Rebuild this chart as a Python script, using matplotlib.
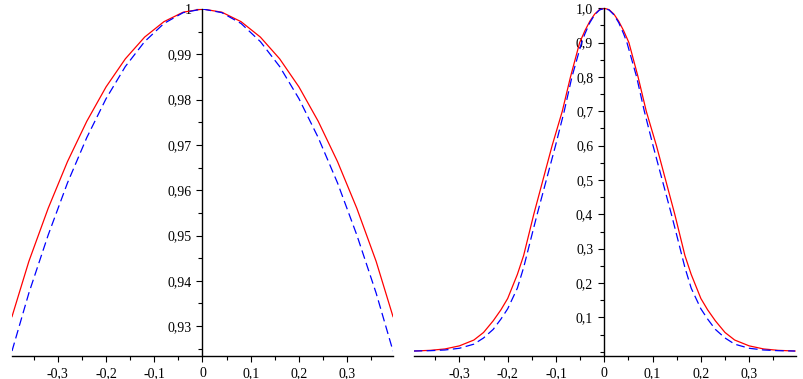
import numpy as np
import matplotlib.pyplot as plt
from matplotlib.ticker import FixedLocator, MultipleLocator, FuncFormatter

# --- data (half curves, x >= 0; curves are symmetric) ---
left_x = [0.0, 0.04, 0.08, 0.12, 0.16, 0.20, 0.24, 0.28, 0.32, 0.36, 0.395]
left_red = [1.0, 0.9993, 0.9972, 0.9938, 0.9890, 0.9828, 0.9752, 0.9663, 0.9560, 0.9443, 0.9321]
left_blue = [1.0, 0.9992, 0.9968, 0.9928, 0.9873, 0.9802, 0.9716, 0.9616, 0.9501, 0.9373, 0.9245]

right_red_x = [0.0, 0.01, 0.02, 0.03, 0.04, 0.051, 0.07, 0.087, 0.108, 0.127, 0.146, 0.167,
               0.18, 0.20, 0.214, 0.23, 0.25, 0.27, 0.30, 0.33, 0.36, 0.395]
right_red = [1.0, 0.996, 0.983, 0.962, 0.935, 0.90, 0.80, 0.70, 0.60, 0.50, 0.40, 0.28,
             0.225, 0.155, 0.122, 0.09, 0.056, 0.034, 0.017, 0.008, 0.004, 0.002]
right_blue_x = [0.0, 0.01, 0.02, 0.03, 0.04, 0.047, 0.067, 0.083, 0.101, 0.12, 0.139, 0.149,
                0.167, 0.18, 0.20, 0.214, 0.23, 0.25, 0.27, 0.30, 0.33, 0.36, 0.395]
right_blue = [1.0, 0.995, 0.981, 0.958, 0.926, 0.90, 0.80, 0.70, 0.60, 0.50, 0.40, 0.345,
              0.245, 0.185, 0.125, 0.095, 0.065, 0.040, 0.022, 0.010, 0.005, 0.003, 0.002]

x_ticks = [-0.3, -0.2, -0.1, 0.0, 0.1, 0.2, 0.3]
left_yticks = [0.93, 0.94, 0.95, 0.96, 0.97, 0.98, 0.99, 1.0]
right_yticks = [0.1, 0.2, 0.3, 0.4, 0.5, 0.6, 0.7, 0.8, 0.9, 1.0]


def mirror(x, y):
    x = np.asarray(x)
    y = np.asarray(y)
    return np.concatenate([-x[::-1], x[1:]]), np.concatenate([y[::-1], y[1:]])


plt.rcParams["font.family"] = ["Liberation Serif", "DejaVu Serif"]
plt.rcParams["font.size"] = 10

fig = plt.figure(figsize=(8.04, 3.79), dpi=100)
ax1 = fig.add_axes([12 / 804, 1 - 356 / 379, 381 / 804, 347 / 379])
ax2 = fig.add_axes([414 / 804, 1 - 356 / 379, 382 / 804, 347.7 / 379])

dash = (0, (7, 3.5))

xr, yr = mirror(left_x, left_red)
xb, yb = mirror(left_x, left_blue)
ax1.plot(xr, yr, color="#ff0000", lw=0.9)
ax1.plot(xb, yb, color="#0000ff", lw=0.9, linestyle=dash)
ax1.set_xlim(-0.395, 0.395)
ax1.set_ylim(0.9234, 1.0)

xr, yr = mirror(right_red_x, right_red)
xb, yb = mirror(right_blue_x, right_blue)
ax2.plot(xr, yr, color="#ff0000", lw=0.9)
ax2.plot(xb, yb, color="#0000ff", lw=0.9, linestyle=dash)
ax2.set_xlim(-0.394, 0.397)
ax2.set_ylim(-0.0125, 1.0)

for ax in (ax1, ax2):
    ax.spines["top"].set_visible(False)
    ax.spines["right"].set_visible(False)
    ax.spines["left"].set_position(("data", 0))
    ax.spines["left"].set_linewidth(1.0)
    ax.spines["bottom"].set_linewidth(1.0)
    ax.patch.set_alpha(0)
    ax.xaxis.set_major_locator(FixedLocator(x_ticks))
    ax.xaxis.set_minor_locator(MultipleLocator(0.05))
    ax.xaxis.set_major_formatter(FuncFormatter(
        lambda v, pos: "0" if abs(v) < 1e-9 else ("%.1f" % v).replace(".", ",")))
    ax.tick_params(axis="both", which="major", direction="out", length=4, width=0.8, pad=4)
    ax.tick_params(axis="both", which="minor", direction="out", length=3, width=0.8)

ax1.yaxis.set_major_locator(FixedLocator(left_yticks))
ax1.yaxis.set_minor_locator(MultipleLocator(0.005))
ax1.yaxis.set_major_formatter(FuncFormatter(
    lambda v, pos: "1" if abs(v - 1) < 1e-9 else ("%.2f" % v).replace(".", ",")))

ax2.yaxis.set_major_locator(FixedLocator(right_yticks))
ax2.yaxis.set_minor_locator(MultipleLocator(0.05))
ax2.yaxis.set_major_formatter(FuncFormatter(lambda v, pos: ("%.1f" % v).replace(".", ",")))

fig.savefig("out.png", dpi=100)
